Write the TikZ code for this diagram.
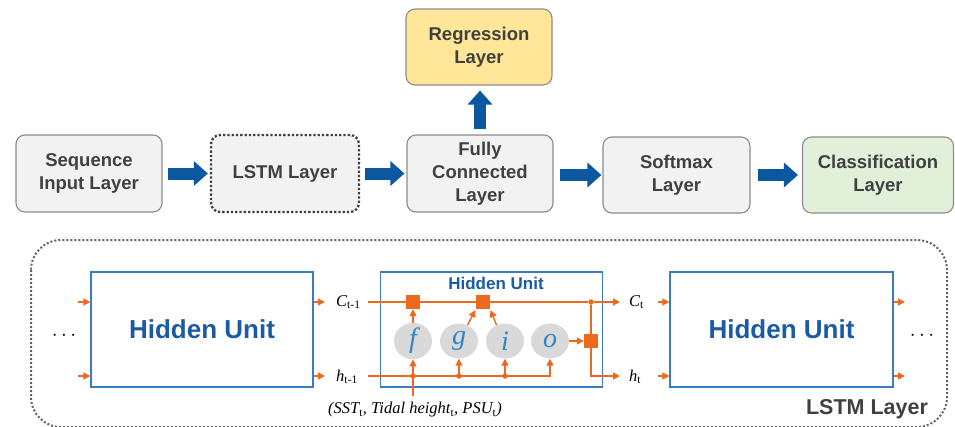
\documentclass[tikz,border=0pt]{standalone}
\usepackage{fontspec}
\setmainfont{Liberation Sans}
\newfontfamily\tms{Liberation Serif}
\usetikzlibrary{arrows.meta,shapes.geometric}

\definecolor{boxgray}{HTML}{F2F2F2}
\definecolor{edgegray}{HTML}{8C8C8C}
\definecolor{txtgray}{HTML}{404040}
\definecolor{regyellow}{HTML}{FFE699}
\definecolor{clsgreen}{HTML}{E2F0D9}
\definecolor{flowblue}{HTML}{0B58A0}
\definecolor{unitblue}{HTML}{3A7CC2}
\definecolor{unittext}{HTML}{1B5BA3}
\definecolor{gateblue}{HTML}{2F86C6}
\definecolor{gatefill}{HTML}{D9D9D9}
\definecolor{sigorange}{HTML}{EC6A1E}

\tikzset{
  layerbox/.style={draw=edgegray, line width=1.1pt, fill=boxgray, rounded corners=9pt,
    minimum width=146pt, minimum height=77pt, align=center, text=txtgray,
    font=\bfseries\fontsize{18.5}{23}\selectfont},
  flowarrow/.style={draw=flowblue, line width=12pt,
    -{Triangle[width=24pt,length=14pt]}},
  unitbox/.style={draw=unitblue, line width=1.2pt, fill=white,
    minimum width=222pt, minimum height=115pt},
  unitlabel/.style={text=unittext, font=\bfseries\fontsize{26}{30}\selectfont},
  gate/.style={ellipse, fill=gatefill, minimum width=38pt, minimum height=35pt,
    inner sep=0pt, text=gateblue, font=\tms\itshape\fontsize{28}{28}\selectfont},
  opbox/.style={fill=sigorange, minimum size=14pt, inner sep=0pt},
  sig/.style={draw=sigorange, line width=1.4pt},
  sigarrow/.style={sig, -{Triangle[width=7pt,length=7pt]}},
  junction/.style={circle, fill=sigorange, minimum size=5.5pt, inner sep=0pt},
  statelabel/.style={font=\tms\fontsize{16.5}{16.5}\selectfont, text=black, inner sep=1pt},
  dotlabel/.style={font=\fontsize{22}{22}\selectfont, text=black}
}

\begin{document}
\begin{tikzpicture}[x=1pt,y=-1pt]
\useasboundingbox (0,0) rectangle (955,426);

% ---- layer pipeline ----
\node[layerbox] (seq) at (89,173.5) {Sequence\\Input Layer};
\node[layerbox, draw=txtgray, line width=2.3pt, dotted, minimum width=148pt] (lstm) at (285,173.5) {LSTM Layer};
\node[layerbox] (fc) at (480,173.5) {Fully\\Connected\\Layer};
\node[layerbox, fill=regyellow, minimum height=76pt] (reg) at (479,47) {Regression\\Layer};
\node[layerbox, minimum width=147pt, minimum height=76pt] (soft) at (676.5,175) {Softmax\\Layer};
\node[layerbox, fill=clsgreen, minimum width=151pt, minimum height=76pt] (cls) at (878,175) {Classification\\Layer};

\draw[flowarrow, shorten <=5pt, shorten >=2pt] (seq.east) -- (lstm.west);
\draw[flowarrow, shorten <=5pt, shorten >=2pt] (lstm.east) -- (fc.west);
\draw[flowarrow, shorten <=6pt, shorten >=1pt] (soft.west -| fc.east) -- (soft.west);
\draw[flowarrow, shorten <=7pt, shorten >=4pt] (soft.east) -- (cls.west);
\draw[flowarrow, shorten <=5pt, shorten >=5pt] (fc.north) -- (fc.north |- reg.south);

% ---- unrolled LSTM layer ----
\draw[edgegray!70!black, line width=2pt, dotted, rounded corners=30pt] (31,240) rectangle (947,427);
\node[text=txtgray, font=\bfseries\fontsize{21.5}{26}\selectfont] (lstmname) at (867,409) {LSTM Layer};

\node[unitbox] (hu1) at (202,329.5) {};
\node[unitlabel] at (hu1.center) {Hidden Unit};
\node[unitbox] (mid) at (491.5,329.5) {};
\node[text=unittext, font=\bfseries\fontsize{17}{20}\selectfont] (midtitle) at (496,283) {Hidden Unit};
\node[unitbox, minimum width=223pt] (hu3) at (781.5,329.5) {};
\node[unitlabel] at (hu3.center) {Hidden Unit};

\node[dotlabel] (dl) at (64,336) {$\cdots$};
\node[dotlabel] (dr) at (922,336) {$\cdots$};

% left unit
\coordinate (inC) at (78,302);
\coordinate (inH) at (78,376);
\draw[sigarrow] (inC) -- (inC -| hu1.west);
\draw[sigarrow] (inH) -- (inH -| hu1.west);
\coordinate (o1C) at (325,302);
\coordinate (o1H) at (325,376);
\draw[sigarrow] (o1C -| hu1.east) -- (o1C);
\draw[sigarrow] (o1H -| hu1.east) -- (o1H);
\node[statelabel, anchor=west] (cprev) at (335,302) {\itshape C\textsubscript{\upshape t-1}};
\node[statelabel, anchor=west] (hprev) at (335,377) {\itshape h\textsubscript{\upshape t-1}};

% middle unit internals
\coordinate (cstart) at (368,302);
\coordinate (hstart) at (368,376);
\node[gate] (gf) at (413,341) {f};
\node[gate] (gg) at (459,341) {g};
\node[gate] (gi) at (505,341) {i};
\node[gate] (go) at (550,341) {o};
\node[opbox] (mf) at (413,302) {};
\node[opbox] (ma) at (483,302) {};
\node[opbox] (mo) at (591,341) {};
\node[junction] (jc) at (591,302) {};
\coordinate (cend) at (620,302);
\coordinate (hend) at (620,376);
\coordinate (xin) at (413,396);

\draw[sig] (cstart) -- (mf.west);
\draw[sig] (mf.east) -- (ma.west);
\draw[sig] (ma.east) -- (jc);
\draw[sigarrow] (jc) -- (cend);
\draw[sig] (jc) -- (mo.north);
\draw[sigarrow] (mo.south) |- (hend);
\draw[sigarrow] (go.east) -- (mo.west);

\draw[sigarrow] (gf.north) -- (mf.south);
\draw[sigarrow, shorten >=1pt] (gg.62) -- (ma.south west);
\draw[sigarrow, shorten >=1pt] (gi.118) -- (ma.south east);

\draw[sigarrow] (hstart) -| (go.south);
\draw[sig] (xin) -- (gf.south |- hstart);
\foreach \g in {gf,gg,gi}{
  \node[junction] at (\g.south |- hstart) {};
  \draw[sigarrow] (\g.south |- hstart) -- (\g.south);
}
\node[font=\tms\itshape\fontsize{16.5}{16.5}\selectfont] (xlabel) at (415,410)
  {(SST\textsubscript{\upshape t}, Tidal height\textsubscript{\upshape t}, PSU\textsubscript{\upshape t})};

% right unit
\node[statelabel, anchor=west] (ccur) at (628,302) {\itshape C\textsubscript{\upshape t}};
\node[statelabel, anchor=west] (hcur) at (628,377) {\itshape h\textsubscript{\upshape t}};
\coordinate (i3C) at (658,302);
\coordinate (i3H) at (658,376);
\draw[sigarrow] (i3C) -- (i3C -| hu3.west);
\draw[sigarrow] (i3H) -- (i3H -| hu3.west);
\coordinate (o3C) at (905,302);
\coordinate (o3H) at (905,376);
\draw[sigarrow] (o3C -| hu3.east) -- (o3C);
\draw[sigarrow] (o3H -| hu3.east) -- (o3H);
\end{tikzpicture}
\end{document}
